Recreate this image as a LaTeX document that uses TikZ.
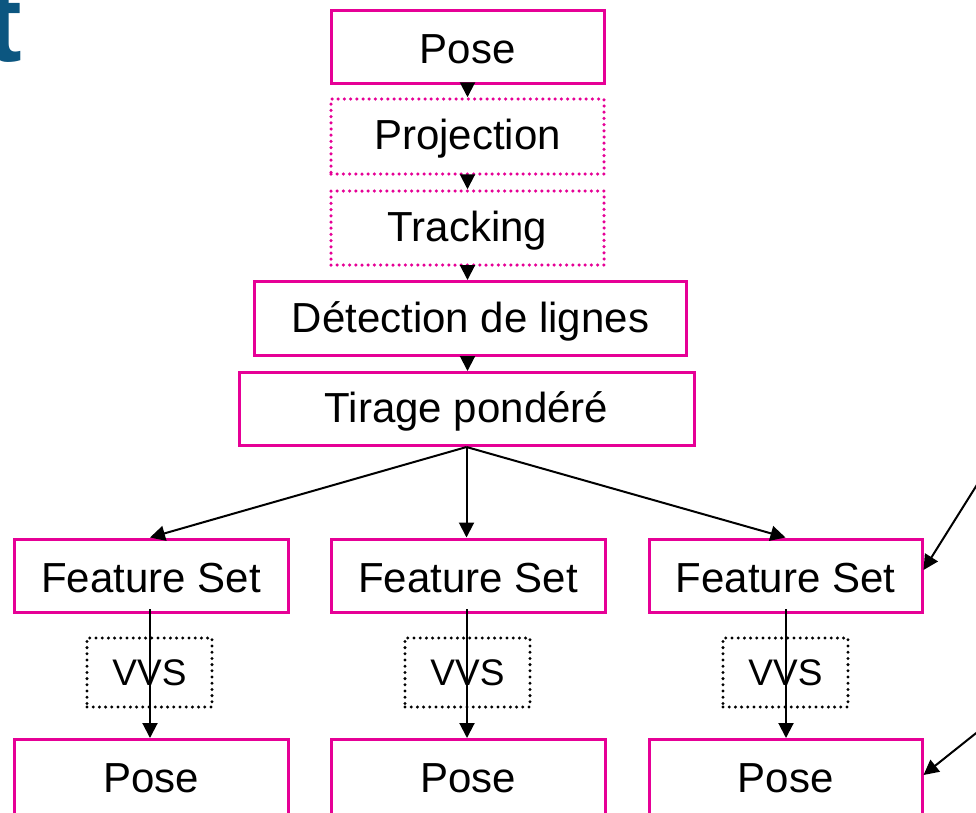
\documentclass[tikz,border=0pt]{standalone}
\usepackage{fontspec}
\setmainfont{Liberation Sans}
\usetikzlibrary{arrows.meta}
\definecolor{boxpink}{RGB}{230,0,150}
\definecolor{titleblue}{RGB}{12,86,128}
\tikzset{
  flowbox/.style={draw=boxpink, line width=3pt, rectangle, inner sep=0pt,
    font=\fontsize{42}{50}\selectfont, text=black},
  dotbox/.style={flowbox, line width=3.5pt, dash pattern=on 0pt off 6.2pt, line cap=round},
  vvsbox/.style={draw=black, line width=3.3pt, rectangle, inner sep=0pt,
    dash pattern=on 0pt off 6.2pt, line cap=round,
    minimum width=125pt, minimum height=69pt,
    font=\fontsize{37}{44}\selectfont},
  lbl/.style={font=\fontsize{42}{50}\selectfont, inner sep=0pt},
  flow/.style={line width=2pt, -{Triangle[length=15pt,width=15pt]}},
}
\begin{document}
\begin{tikzpicture}[x=1pt,y=-1pt]
\useasboundingbox (0,0) rectangle (976,812);
\clip (0,0) rectangle (976,812);
\fill[white] (0,0) rectangle (976,812);

% fragment of the heading
\node[anchor=base east, inner sep=0pt, text=titleblue,
      font=\fontsize{110}{120}\selectfont\bfseries] (heading) at (22,61) {t};

% main chain (boxes, then their labels)
\node[flowbox, minimum width=273pt, minimum height=73pt] (pose) at (467.5,46.5) {};
\node[dotbox, minimum width=273pt, minimum height=75pt] (proj) at (467.5,136.5) {};
\node[dotbox, minimum width=273pt, minimum height=74pt] (track) at (467.5,228) {};
\node[flowbox, minimum width=432pt, minimum height=74pt] (detect) at (470.5,318.5) {};
\node[flowbox, minimum width=455pt, minimum height=73pt] (tirage) at (466.5,409) {};
\node[lbl] at ([yshift=-2.5pt]pose) {Pose};
\node[lbl] at ([yshift=-2.5pt]proj) {Projection};
\node[lbl] at ([yshift=-2.5pt]track) {Tracking};
\node[lbl] at ([yshift=-2.5pt]detect) {Détection de lignes};
\node[lbl] at ([yshift=-2.5pt]tirage) {Tirage pondéré};

% three branches
\node[flowbox, minimum width=274pt, minimum height=73pt] (fsA) at (151,575.5) {};
\node[flowbox, minimum width=274pt, minimum height=73pt] (fsB) at (468,575.5) {};
\node[flowbox, minimum width=273pt, minimum height=73pt] (fsC) at (785.5,575.5) {};
\node[lbl] at ([yshift=-2.5pt]fsA) {Feature Set};
\node[lbl] at ([yshift=-2.5pt]fsB) {Feature Set};
\node[lbl] at ([yshift=-2.5pt]fsC) {Feature Set};

\node[vvsbox] (vvsA) at (149.5,672.5) {VVS};
\node[vvsbox] (vvsB) at (467.5,672.5) {VVS};
\node[vvsbox] (vvsC) at (785.5,672.5) {VVS};

\node[flowbox, minimum width=274pt, minimum height=76pt] (poseA) at (151,777.5) {};
\node[flowbox, minimum width=274pt, minimum height=76pt] (poseB) at (468,777.5) {};
\node[flowbox, minimum width=273pt, minimum height=76pt] (poseC) at (785.5,777.5) {};
\node[lbl] at (151,778) {Pose};
\node[lbl] at (468,778) {Pose};
\node[lbl] at (785.5,778) {Pose};

% connectors
\draw[flow] (pose.south) -- (proj.north);
\draw[flow] (proj.south) -- (track.north);
\draw[flow] (track.south) -- (detect.north -| track.south);
\draw[flow] (detect.south -| track.south) -- (tirage.north -| track.south);

\coordinate (fork) at (tirage.south);
\draw[flow] (fork) -- ([xshift=-1pt]fsA.north);
\draw[flow] (fork) -- (fork |- fsB.north);
\draw[flow] (fork) -- (fsC.north);

\coordinate (fsAout) at (150,609);
\coordinate (fsBout) at (467,609);
\coordinate (fsCout) at (786,609);
\draw[flow] (fsAout) -- (fsAout |- poseA.north);
\draw[flow] (fsBout) -- (fsBout |- poseB.north);
\draw[flow] (fsCout) -- (fsCout |- poseC.north);

% incoming links from the right margin
\coordinate (inUp) at (990,464);
\coordinate (inDown) at (990,722);
\draw[flow] (inUp) -- (fsC.east |- 0,570);
\draw[flow] (inDown) -- (poseC.east |- 0,775);
\end{tikzpicture}
\end{document}
